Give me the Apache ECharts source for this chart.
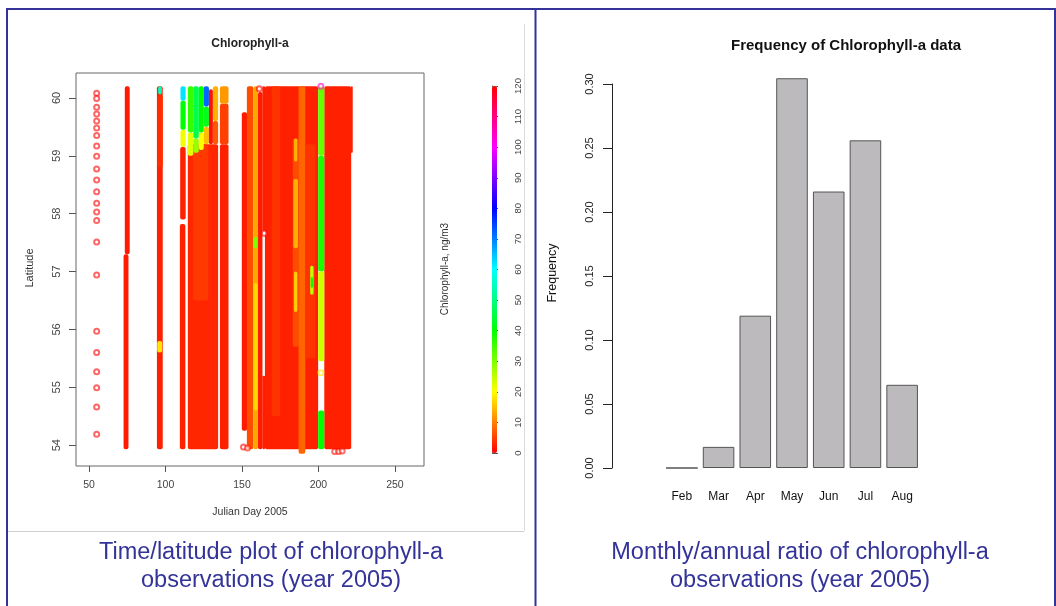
<!DOCTYPE html>
<html>
<head>
<meta charset="utf-8">
<script src="https://cdn.jsdelivr.net/npm/echarts@6.0.0/dist/echarts.min.js"></script>
<style>
html, body { margin: 0; padding: 0; background: #fff; }
#main { width: 1056px; height: 606px; }
</style>
</head>
<body>
<div id="main"></div>
<script>
const FONT = "'Liberation Sans', Arial, Helvetica, sans-serif";

// right panel: monthly share of observations
const months = ['Feb', 'Mar', 'Apr', 'May', 'Jun', 'Jul', 'Aug'];
const monthFreq = [0, 0.0165, 0.119, 0.3045, 0.216, 0.256, 0.065];

// left panel ticks
const dayTicks = [50, 100, 150, 200, 250];
const latTicks = [54, 55, 56, 57, 58, 59, 60];

// ship tracks, runs of overlapping observations: [chl, dayFrom, dayTo, latFrom, latTo]
const trackPatches = [
    [2, 72.6, 75.8, 53.93, 57.3],
    [2, 73.4, 76.6, 57.3, 60.2],
    [2.5, 94.4, 98.2, 53.93, 60.2],
    [3.5, 94.8, 98.2, 58.8, 60.05],
    [18, 94.6, 97.8, 55.6, 55.8],
    [55, 95.2, 97.6, 60.06, 60.2],
    [2.5, 109.4, 113.0, 53.93, 57.82],
    [2.5, 109.6, 113.2, 57.9, 59.15],
    [21, 109.8, 113.2, 59.15, 59.45],
    [40, 109.8, 113.2, 59.45, 59.95],
    [62, 109.8, 113.2, 59.95, 60.2],
    [3, 114.6, 134.4, 53.93, 59.2],
    [4.5, 118.0, 128.0, 56.5, 59.2],
    [22, 114.6, 118.2, 59.0, 59.4],
    [36, 114.6, 118.2, 59.4, 60.2],
    [28, 118.2, 121.8, 59.05, 59.3],
    [46, 118.2, 121.8, 59.3, 60.2],
    [20, 121.8, 125.0, 59.1, 59.4],
    [40, 121.8, 125.0, 59.4, 60.2],
    [15, 125.0, 128.4, 59.2, 59.5],
    [42, 125.0, 128.4, 59.5, 59.85],
    [72, 125.0, 128.4, 59.85, 60.2],
    [1.5, 128.4, 131.0, 59.2, 60.15],
    [7, 131.0, 134.4, 59.2, 59.6],
    [14, 131.0, 134.4, 59.6, 60.2],
    [2.5, 135.6, 141.2, 53.93, 59.2],
    [5, 135.6, 141.2, 59.2, 59.9],
    [12, 135.6, 141.2, 59.9, 60.2],
    [2, 149.9, 153.4, 54.25, 59.75],
    [6, 153.2, 157.4, 53.93, 60.2],
    [13, 157.4, 160.5, 53.93, 60.2],
    [17, 157.6, 160.3, 54.6, 56.8],
    [30, 157.8, 160.0, 57.4, 57.6],
    [2, 160.5, 163.4, 53.93, 60.1],
    [2.5, 163.3, 165.2, 57.7, 60.2],
    [2.5, 163.3, 165.2, 53.93, 55.2],
    [2.5, 165.0, 199.8, 53.93, 60.2],
    [2.5, 203.8, 221.4, 53.93, 60.2],
    [2.5, 221.2, 222.4, 59.05, 60.2],
    [4, 169.5, 175.0, 54.5, 60.2],
    [6, 183.2, 187.0, 55.7, 59.3],
    [14, 183.6, 186.6, 57.4, 58.6],
    [16, 184.0, 186.2, 56.3, 57.0],
    [14, 184.0, 186.2, 58.9, 59.3],
    [8, 187.0, 191.4, 53.85, 60.2],
    [4, 191.4, 198.0, 55.5, 59.2],
    [25, 194.6, 196.8, 56.6, 57.1],
    [40, 195.0, 196.4, 56.72, 56.9],
    [32, 199.8, 203.8, 59.0, 60.2],
    [38, 199.8, 203.8, 57.0, 59.0],
    [24, 199.8, 203.8, 55.45, 57.0],
    [40, 199.8, 203.8, 53.93, 54.6]
];

// isolated observations: [chl, day, lat]
const singleObs = [
    [0, 55, 60.08], [0, 55, 59.99], [0, 55, 59.84], [0, 55, 59.72], [0, 55, 59.60],
    [0, 55, 59.48], [0, 55, 59.35], [0, 55, 59.17], [0, 55, 58.99], [0, 55, 58.77],
    [0, 55, 58.58], [0, 55, 58.38], [0, 55, 58.18], [0, 55, 58.03], [0, 55, 57.88],
    [0, 55, 57.51], [0, 55, 56.94], [0, 55, 55.97], [0, 55, 55.60], [0, 55, 55.27],
    [0, 55, 54.99], [0, 55, 54.66], [0, 55, 54.19],
    [0, 151, 53.97], [2, 153.6, 53.95], [0, 161.3, 60.16], [0, 164.6, 57.66],
    [18, 201.6, 55.25], [105, 201.6, 60.2],
    [1, 210.6, 53.89], [1, 213.2, 53.89], [1, 215.5, 53.9]
];

const hueStops = ['#ff0000', '#ffff00', '#00ff00', '#00ffff', '#0000ff', '#ff00ff', '#ff0000'];

const chart = echarts.init(document.getElementById('main'));

const txt = (text, x, y, size, opts = {}) => ({
    type: 'text', x, y, rotation: opts.rot || 0, silent: true,
    style: {
        text, fontSize: size, fontFamily: FONT, fontWeight: opts.bold ? 'bold' : 'normal',
        fill: opts.color || '#222', align: 'center', verticalAlign: 'middle'
    }
});
const line = (x1, y1, x2, y2, color, w) => ({
    type: 'line', silent: true, shape: { x1, y1, x2, y2 }, style: { stroke: color, lineWidth: w }
});

const option = {
    animation: false,
    backgroundColor: '#fff',
    grid: [
        { left: 76, top: 73, width: 348, height: 393, show: true, borderColor: '#666', borderWidth: 1, backgroundColor: 'transparent' },
        { left: 492, top: 86, width: 5, height: 367 },
        { left: 663.5, top: 84, width: 257, height: 384 }
    ],
    xAxis: [
        {
            type: 'value', gridIndex: 0, min: 41.5, max: 269,
            axisLine: { show: false }, splitLine: { show: false },
            axisTick: { show: true, customValues: dayTicks, length: 6, lineStyle: { color: '#555' } },
            axisLabel: { customValues: dayTicks, margin: 14, fontSize: 10.5, color: '#444', fontFamily: FONT }
        },
        { type: 'value', gridIndex: 1, min: 0, max: 1, show: false },
        {
            type: 'category', gridIndex: 2, data: months,
            axisLine: { show: false }, axisTick: { show: false },
            axisLabel: { margin: 23, fontSize: 12, color: '#111', fontFamily: FONT }
        }
    ],
    yAxis: [
        {
            type: 'value', gridIndex: 0, min: 53.64, max: 60.43,
            axisLine: { show: false }, splitLine: { show: false },
            axisTick: { show: true, customValues: latTicks, length: 7, lineStyle: { color: '#555' } },
            axisLabel: { customValues: latTicks, rotate: 90, margin: 14, fontSize: 11, color: '#444', fontFamily: FONT }
        },
        {
            type: 'value', gridIndex: 1, position: 'right', min: 0, max: 120, interval: 10,
            axisLine: { show: true, lineStyle: { color: '#555' } }, splitLine: { show: false },
            axisTick: { show: true, length: 6, lineStyle: { color: '#555' } },
            axisLabel: { rotate: 90, margin: 16, fontSize: 9.5, color: '#444', fontFamily: FONT }
        },
        {
            type: 'value', gridIndex: 2, position: 'left', offset: 51.5, min: 0, max: 0.30, interval: 0.05,
            axisLine: { show: true, lineStyle: { color: '#222' } }, splitLine: { show: false },
            axisTick: { show: true, length: 9, lineStyle: { color: '#222' } },
            axisLabel: { rotate: 90, margin: 17, fontSize: 11, color: '#222', fontFamily: FONT, formatter: v => v.toFixed(2) }
        }
    ],
    visualMap: {
        type: 'continuous', min: 0, max: 120, dimension: 0, seriesIndex: [0, 1],
        orient: 'vertical', left: 492, top: 86, itemWidth: 5, itemHeight: 367, padding: 0,
        calculable: false, hoverLink: false, inRange: { color: hueStops },
        textStyle: { color: 'rgba(0,0,0,0)' }, formatter: () => ''
    },
    series: [
        {
            type: 'custom', xAxisIndex: 0, yAxisIndex: 0, data: trackPatches,
            encode: { x: [1, 2], y: [3, 4] }, silent: true,
            renderItem: (params, api) => {
                const a = api.coord([api.value(1), api.value(4)]);
                const b = api.coord([api.value(2), api.value(3)]);
                return {
                    type: 'rect',
                    shape: { x: a[0], y: a[1], width: b[0] - a[0], height: b[1] - a[1], r: 2 },
                    style: { fill: api.visual('color') }
                };
            }
        },
        {
            type: 'scatter', xAxisIndex: 0, yAxisIndex: 0, data: singleObs,
            encode: { x: 1, y: 2 }, symbol: 'emptyCircle', symbolSize: 5, silent: true,
            itemStyle: { borderWidth: 0.8, opacity: 0.6 }
        },
        {
            type: 'bar', xAxisIndex: 2, yAxisIndex: 2, data: monthFreq, barCategoryGap: '14%',
            clip: false, silent: true,
            itemStyle: { color: '#bcbabd', borderColor: '#555', borderWidth: 1 }
        }
    ],
    graphic: [
        line(8, 531.5, 524, 531.5, '#cfcfcf', 1),
        line(524.5, 24, 524.5, 531, '#dcdcdc', 1),
        line(6, 9, 1056, 9, '#333399', 2),
        line(7, 9, 7, 606, '#333399', 2),
        line(535.5, 9, 535.5, 606, '#333399', 2),
        line(1055, 9, 1055, 606, '#333399', 2),
        txt('Chlorophyll-a', 250, 44, 12, { bold: true }),
        txt('Latitude', 30, 268, 11, { rot: Math.PI / 2, color: '#333' }),
        txt('Julian Day 2005', 250, 512, 10.5, { color: '#333' }),
        txt('Chlorophyll-a, ng/m3', 445, 269, 10, { rot: Math.PI / 2, color: '#333' }),
        txt('Frequency of Chlorophyll-a data', 846, 46, 15, { bold: true, color: '#111' }),
        txt('Frequency', 553, 273, 12.5, { rot: Math.PI / 2, color: '#111' }),
        txt('Time/latitude plot of chlorophyll-a', 271, 553, 23.5, { color: '#333399' }),
        txt('observations (year 2005)', 271, 581, 23.5, { color: '#333399' }),
        txt('Monthly/annual ratio of chlorophyll-a', 800, 553, 23.5, { color: '#333399' }),
        txt('observations (year 2005)', 800, 581, 23.5, { color: '#333399' })
    ]
};

chart.setOption(option);
</script>
</body>
</html>
